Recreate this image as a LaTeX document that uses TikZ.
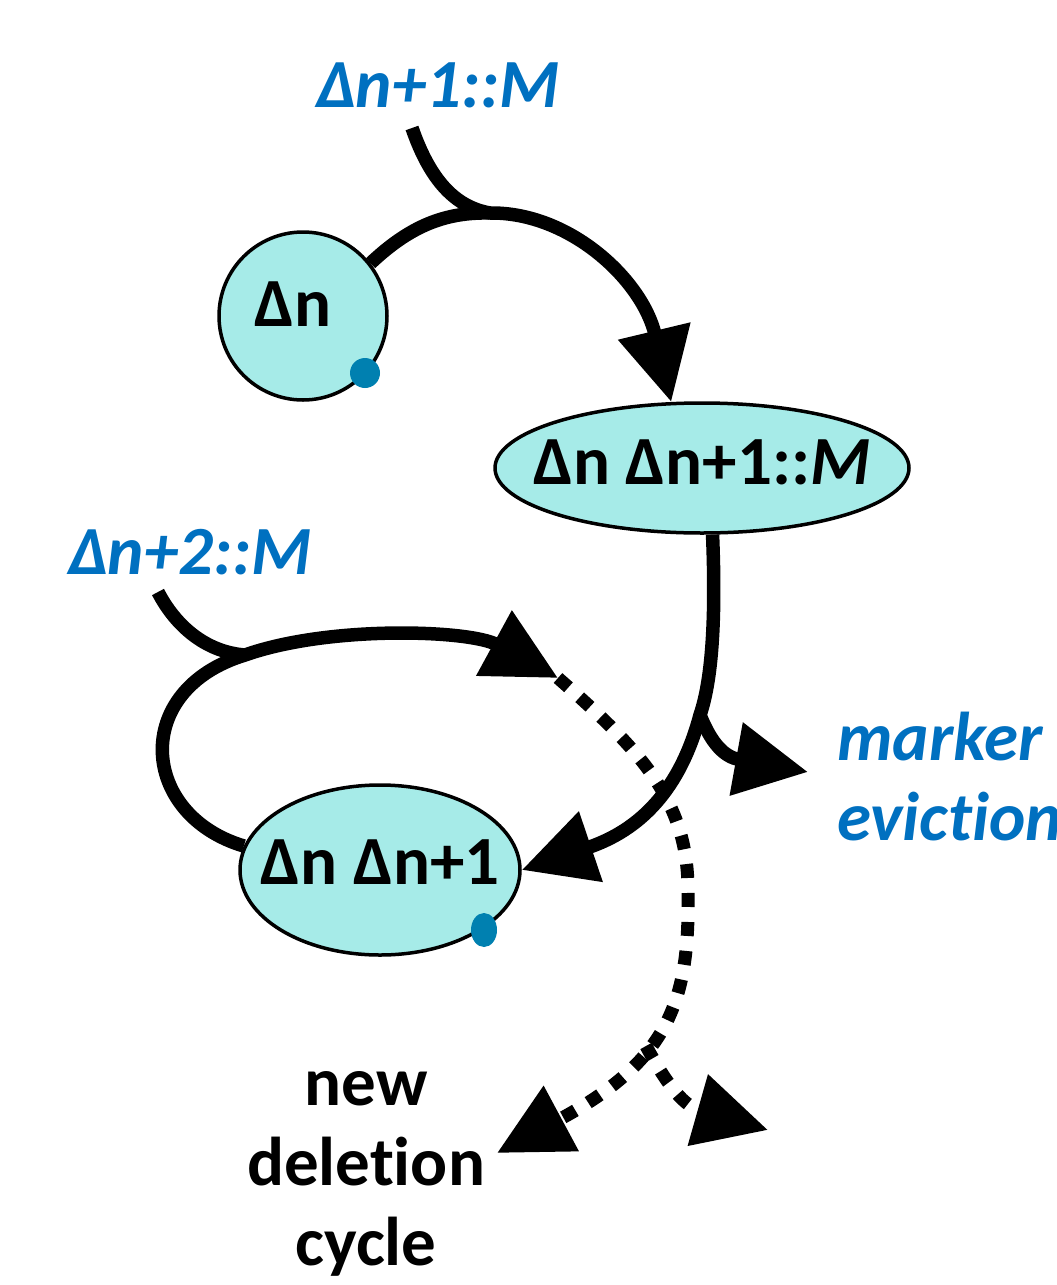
\documentclass[tikz,border=0pt]{standalone}
\usepackage{fontspec}
\setmainfont{Carlito}[Ligatures=NoCommon]
\usetikzlibrary{arrows.meta,shapes.geometric}
\definecolor{cyanfill}{RGB}{166,235,232}
\definecolor{labblue}{RGB}{0,112,192}
\definecolor{dotblue}{RGB}{0,128,176}
\begin{document}
\begin{tikzpicture}[x=1pt,y=-1pt,
  statebox/.style={draw=black,line width=3.5pt,fill=cyanfill,inner sep=0pt},
  txt/.style={font=\fontsize{69}{80}\selectfont\bfseries,inner sep=0pt},
  bluelab/.style={font=\fontsize{69}{80}\selectfont\bfseries\itshape,text=labblue,inner sep=0pt},
  conn/.style={line width=13.5pt},
  arr/.style={-{Triangle[length=73pt,width=71pt]}},
  dotline/.style={line width=13pt,dash pattern=on 14pt off 15pt},
  bdot/.style={fill=dotblue,inner sep=0pt}
]
\useasboundingbox[fill=white] (0,0) rectangle (1057,1285);

% states
\node[statebox,circle,minimum size=168pt] (dn) at (303,316) {};
\node[txt] (dnt) at (293,304) {Δn};
\node[bdot,circle,minimum size=30pt] (d1) at (365,373) {};

\node[statebox,ellipse,minimum width=414pt,minimum height=130pt] (e1) at (702,468) {};
\node[txt] (e1t) at (702,462) {Δn Δn+1::\textit{M}};

\node[statebox,ellipse,minimum width=280pt,minimum height=170pt] (e3) at (380,870) {};
\node[txt] (e3t) at (380,862) {Δn Δn+1};
\node[bdot,ellipse,minimum width=26pt,minimum height=34pt] (d2) at (484,930) {};

% labels
\node[bluelab] (l1) at (438,85) {Δn+1::M};
\node[bluelab] (l2) at (190,552) {Δn+2::M};
\node[bluelab,anchor=base west,align=left] (me) at (837,840) {marker\\eviction};
\node[txt,align=center,anchor=base] (nd) at (366,1265) {new\\deletion\\cycle};

% coordinates
\coordinate (j1) at (490,213);
\coordinate (s1) at (412,128);
\coordinate (b1) at (700,715);
\coordinate (metip) at (808,772);
\coordinate (j2) at (245,655);
\coordinate (s2) at (158,592);
\coordinate (lt) at (558,678);
\coordinate (v1) at (688,890);
\coordinate (ndtip) at (497,1153);
\coordinate (bd) at (646,1046);
\coordinate (rtip) at (768,1130);

% Delta_n -> e1 with merge
\draw[conn,arr] (dn.38) .. controls (410,226) and (445,212) .. (j1)
  .. controls (570,212) and (642,280) .. (e1.115);
\draw[conn] (s1) .. controls (430,180) and (455,207) .. (j1);

% e1 -> e3 with branch to marker eviction
\draw[conn,arr] (e1.-81) .. controls (716,620) and (712,680) .. (b1)
  .. controls (680,790) and (640,830) .. (e3.east);
\draw[conn,arr] (b1) .. controls (712,745) and (725,757) .. (metip);

% loop on e3 with merge
\draw[conn,arr] (e3.170) .. controls (140,815) and (130,690) .. (j2)
  .. controls (330,625) and (470,630) .. (lt);
\draw[conn] (s2) .. controls (175,625) and (205,652) .. (j2);

% dotted continuation
\draw[dotline,arr] (lt) .. controls (640,750) and (688,800) .. (v1)
  .. controls (690,1000) and (670,1060) .. (ndtip);
\draw[dotline,arr] (bd) .. controls (662,1075) and (680,1105) .. (rtip);
\end{tikzpicture}
\end{document}
